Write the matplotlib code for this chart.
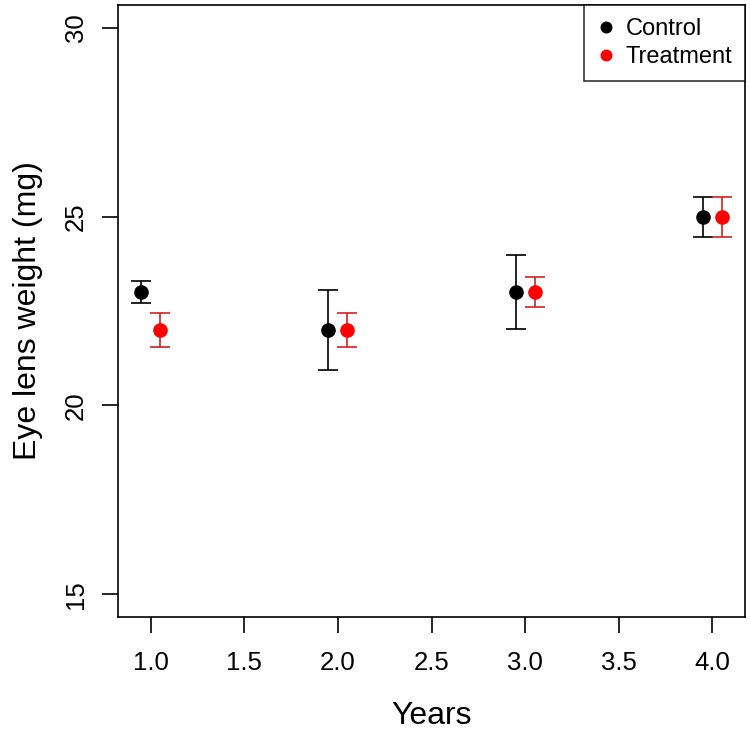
import matplotlib
matplotlib.use('Agg')
import matplotlib.pyplot as plt

# data
years = [1, 2, 3, 4]
control_mean = [23.0, 22.0, 23.0, 25.0]
control_err = [0.3, 1.05, 0.97, 0.53]
treat_mean = [22.0, 22.0, 23.0, 25.0]
treat_err = [0.46, 0.44, 0.4, 0.53]
offset = 0.05

plt.rcParams['font.family'] = ['Liberation Sans', 'DejaVu Sans']

fig = plt.figure(figsize=(7.5, 7.32), dpi=100)
ax = fig.add_axes([118 / 750, 1 - 617 / 732, (745 - 118) / 750, (617 - 5) / 732])

cx = [y - offset for y in years]
tx = [y + offset for y in years]
ax.errorbar(cx, control_mean, yerr=control_err, fmt='none', ecolor='black',
            elinewidth=1.2, capsize=7, capthick=1.2)
ax.errorbar(tx, treat_mean, yerr=treat_err, fmt='none', ecolor='#d42020',
            elinewidth=1.2, capsize=7, capthick=1.2)
ax.plot(cx, control_mean, 'o', color='black', markersize=9.5, label='Control')
ax.plot(tx, treat_mean, 'o', color='red', markersize=9.5, label='Treatment')

ax.set_xlim(0.826, 4.174)
ax.set_ylim(14.4, 30.6)
ax.set_xticks([1.0, 1.5, 2.0, 2.5, 3.0, 3.5, 4.0])
ax.set_xticklabels(['1.0', '1.5', '2.0', '2.5', '3.0', '3.5', '4.0'])
ax.set_yticks([15, 20, 25, 30])
ax.tick_params(axis='both', direction='out', length=11.5, width=1.2,
               labelsize=18.5)
ax.tick_params(axis='x', pad=13)
ax.tick_params(axis='y', pad=10)
for lab in ax.get_yticklabels():
    lab.set_rotation(90)
    lab.set_va('center')
for sp in ax.spines.values():
    sp.set_linewidth(1.2)

ax.set_xlabel('Years', fontsize=23, labelpad=19)
ax.set_ylabel('Eye lens weight (mg)', fontsize=23, labelpad=15)

leg = ax.legend(loc='upper right', fontsize=17, frameon=True, fancybox=False,
                borderaxespad=0, handletextpad=0.4, borderpad=0.55,
                handlelength=0.8, labelspacing=0.25, markerscale=0.8)
leg.get_frame().set_edgecolor('black')
leg.get_frame().set_linewidth(1.2)

fig.savefig('out.png', dpi=100)
